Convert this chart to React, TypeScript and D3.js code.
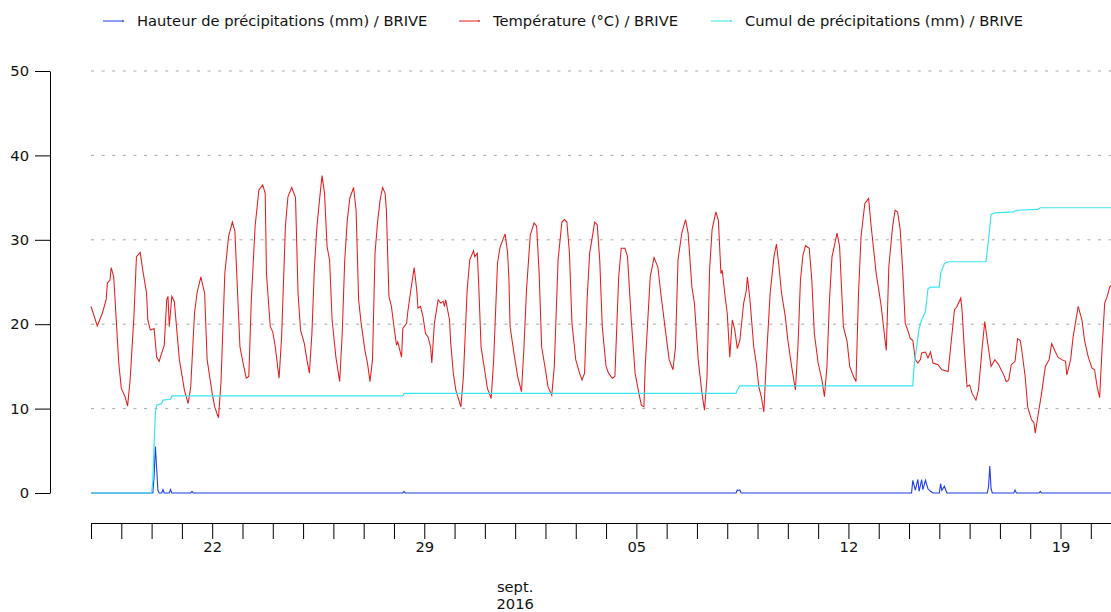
import { useEffect, useRef } from 'react'
import * as d3 from 'd3'

// hours since 2016-08-18 00:00, value
const temperature: [number, number][] = [
  [0, 22.1], [5, 19.8], [9, 21.3], [12, 22.9], [13, 24.9], [15, 25.2], [16, 26.7], [18, 25.6], [22, 15.4], [24, 12.4],
  [27, 11.4], [29, 10.3], [31, 13.4], [34, 20.9], [36, 28.0], [39, 28.5], [41, 26.4], [44, 23.7], [45, 20.5], [47, 19.3],
  [50, 19.5], [52, 16.1], [54, 15.6], [55, 16.1], [58, 17.5], [60, 22.9], [61, 23.3], [62, 19.7], [64, 23.3], [66, 22.7],
  [70, 15.8], [74, 12.2], [77, 10.6], [79, 12.6], [82, 21.3], [84, 23.7], [87, 25.6], [90, 23.7], [92, 15.8], [96, 11.8],
  [98, 10.2], [101, 8.9], [103, 13.2], [106, 26.0], [109, 30.4], [112, 32.1], [114, 31.0], [116, 24.1], [118, 17.3], [121, 15.0],
  [123, 13.6], [125, 13.8], [127, 22.9], [130, 31.6], [133, 35.9], [136, 36.5], [138, 35.5], [139, 26.0], [142, 19.7], [144, 19.1],
  [146, 17.3], [148, 14.8], [149, 13.6], [151, 18.5], [154, 31.6], [156, 35.1], [159, 36.2], [162, 35.0], [164, 23.7], [166, 19.3],
  [169, 17.7], [171, 15.8], [173, 14.2], [175, 18.9], [177, 26.8], [179, 31.6], [181, 34.7], [183, 37.6], [185, 35.5], [187, 29.2],
  [189, 27.6], [191, 20.5], [194, 16.1], [197, 13.2], [199, 18.9], [201, 27.6], [203, 32.3], [205, 34.9], [208, 36.2], [210, 33.5],
  [212, 22.9], [214, 20.1], [217, 16.9], [219, 15.4], [221, 13.2], [223, 15.8], [225, 28.4], [227, 32.1], [229, 34.7], [231, 36.2],
  [233, 35.5], [234, 33.5], [236, 23.3], [238, 22.1], [240, 19.7], [242, 17.5], [243, 17.9], [246, 16.1], [247, 19.5], [250, 20.1],
  [251, 21.5], [253, 23.7], [256, 26.7], [258, 24.1], [259, 21.9], [261, 22.1], [263, 20.9], [265, 18.9], [267, 18.5], [269, 17.3],
  [270, 15.4], [272, 20.1], [275, 22.9], [277, 22.5], [279, 22.7], [280, 22.1], [281, 22.9], [284, 20.5], [285, 17.7], [287, 14.2],
  [289, 12.2], [291, 11.2], [293, 10.2], [295, 13.8], [298, 24.1], [300, 27.6], [303, 28.7], [304, 28.0], [306, 28.4], [307, 25.2],
  [309, 17.3], [312, 14.4], [314, 12.4], [317, 11.2], [319, 15.8], [322, 27.2], [324, 29.1], [328, 30.7], [330, 28.5], [331, 25.6],
  [332, 19.7], [335, 16.6], [338, 13.8], [341, 12.0], [343, 17.3], [345, 24.1], [348, 30.6], [351, 32.0], [353, 31.6], [355, 26.0],
  [357, 17.3], [360, 14.6], [362, 12.6], [365, 11.6], [367, 15.0], [370, 27.6], [373, 32.1], [375, 32.4], [377, 32.1], [379, 28.4],
  [381, 20.1], [384, 15.8], [387, 14.2], [389, 13.4], [391, 14.2], [393, 22.9], [395, 28.4], [399, 32.1], [401, 31.8], [403, 27.6],
  [405, 19.7], [408, 15.0], [410, 14.2], [413, 13.6], [415, 13.8], [418, 25.6], [420, 29.0], [423, 29.0], [425, 28.0], [428, 20.5],
  [431, 14.2], [434, 11.8], [436, 10.4], [438, 10.2], [439, 15.0], [443, 25.6], [446, 27.9], [449, 26.8], [452, 22.9], [455, 19.3],
  [458, 15.8], [461, 14.6], [463, 17.3], [465, 27.6], [468, 30.8], [471, 32.4], [473, 30.8], [476, 24.4], [478, 22.5], [481, 15.8],
  [484, 11.8], [486, 9.8], [488, 13.8], [490, 26.4], [492, 31.2], [495, 33.3], [497, 32.3], [499, 26.0], [500, 26.4], [502, 23.7],
  [504, 21.3], [506, 16.1], [508, 20.5], [510, 19.3], [512, 17.1], [514, 18.1], [517, 22.5], [519, 23.9], [520, 25.6], [522, 22.9],
  [525, 17.3], [527, 15.4], [529, 12.6], [531, 11.4], [533, 9.6], [535, 15.8], [538, 23.7], [541, 28.0], [543, 29.5], [545, 26.8],
  [547, 23.7], [550, 20.9], [552, 18.1], [555, 15.0], [558, 12.2], [560, 17.3], [562, 25.2], [564, 28.2], [566, 29.3], [569, 29.0],
  [571, 25.2], [573, 18.9], [576, 15.4], [579, 13.4], [581, 11.4], [583, 15.0], [585, 22.9], [587, 28.0], [589, 29.4], [591, 30.8],
  [593, 29.2], [596, 19.7], [599, 17.9], [601, 15.0], [604, 13.8], [606, 13.2], [608, 23.7], [610, 30.4], [613, 34.3], [616, 34.9],
  [618, 31.6], [622, 26.0], [624, 24.1], [626, 22.1], [629, 18.1], [630, 16.9], [632, 26.8], [635, 31.6], [637, 33.5], [639, 33.3],
  [641, 31.2], [643, 26.4], [645, 20.1], [647, 19.3], [649, 18.3], [651, 18.1], [653, 15.8], [655, 15.4], [657, 15.8], [658, 16.6],
  [661, 16.7], [663, 16.0], [665, 16.7], [667, 15.4], [671, 15.2], [674, 14.6], [679, 14.4], [681, 17.3], [684, 21.7], [686, 22.1],
  [689, 23.1], [690, 21.7], [692, 16.6], [694, 12.6], [696, 12.8], [698, 11.8], [701, 11.0], [703, 12.2], [706, 17.3], [708, 20.3],
  [710, 18.1], [713, 15.0], [716, 15.8], [719, 15.2], [723, 14.0], [725, 13.2], [727, 13.4], [729, 15.2], [732, 15.6], [734, 18.3],
  [736, 18.1], [737, 17.3], [740, 13.8], [742, 10.2], [745, 8.7], [747, 8.3], [748, 7.1], [750, 9.0], [753, 11.8], [756, 15.0],
  [759, 15.8], [761, 17.7], [764, 16.7], [766, 16.1], [769, 15.8], [772, 15.6], [773, 14.0], [776, 15.8], [778, 18.5], [782, 22.1],
  [785, 20.5], [787, 18.1], [790, 16.1], [793, 14.8], [795, 14.6], [797, 12.6], [799, 11.3], [801, 17.3], [803, 22.5], [805, 23.3],
  [807, 24.4], [808, 24.6],
]

const cumul: [number, number][] = [
  [0, 0], [48, 0], [49, 1.5], [50, 6.0], [51, 9.5], [52, 10.4], [56, 10.6], [57, 11.0], [63, 11.1], [64, 11.5],
  [247, 11.5], [248, 11.8], [511, 11.8], [512, 12.2], [514, 12.7], [651, 12.7], [652, 15.0], [654, 17.3], [656, 19.5],
  [658, 20.5], [661, 21.5], [663, 24.2], [665, 24.4], [672, 24.4], [673, 26.0], [676, 27.2], [679, 27.4], [709, 27.4],
  [711, 30.0], [713, 33.0], [716, 33.2], [731, 33.3], [733, 33.5], [750, 33.6], [752, 33.8], [808, 33.8],
]

const precip: [number, number][] = [
  [0, 0], [49, 0], [50, 2.0], [51, 5.5], [52, 3.0], [53, 0.3], [54, 0], [56, 0], [57, 0.4], [58, 0], [62, 0], [63, 0.4],
  [64, 0], [79, 0], [80, 0.2], [81, 0], [247, 0], [248, 0.2], [249, 0], [511, 0], [512, 0.35], [513, 0.3], [514, 0.35],
  [515, 0], [650, 0], [651, 1.5], [653, 0.35], [655, 1.6], [656, 0.2], [658, 1.6], [659, 0.4], [661, 1.5], [663, 0.5],
  [665, 0.2], [667, 0], [672, 0], [673, 1.1], [674, 0.3], [676, 0.8], [678, 0], [710, 0], [711, 0.75], [712, 3.2],
  [713, 0.5], [714, 0], [731, 0], [732, 0.35], [733, 0], [751, 0], [752, 0.2], [753, 0], [808, 0],
]

const yTicks = [0, 10, 20, 30, 40, 50]
const seriesNames = [
  'Hauteur de précipitations (mm) / BRIVE',
  'Température (°C) / BRIVE',
  'Cumul de précipitations (mm) / BRIVE',
]
const seriesColors = ['#1f3fe0', '#e41e1e', '#38e6ee']

const width = 1111
const height = 612
const font = '"DejaVu Sans", sans-serif'
const fontSize = 14.7
const textColor = '#111'

export default function App() {
  const xAxisRef = useRef<SVGGElement>(null)
  const yAxisRef = useRef<SVGGElement>(null)

  const start = new Date(2016, 7, 18)
  const end = d3.timeHour.offset(start, 808)
  const x = d3.scaleTime().domain([start, end]).range([91, 1111])
  const y = d3.scaleLinear().domain([0, 50]).range([493, 71])

  const line = d3
    .line<[number, number]>()
    .x(d => x(d3.timeHour.offset(start, d[0])))
    .y(d => y(d[1]))

  useEffect(() => {
    const days = d3.timeDay.range(start, end)
    const fmt = d3.timeFormat('%d')
    const xa = d3
      .axisBottom(x)
      .tickValues(days)
      .tickSize(16)
      .tickSizeOuter(0)
      .tickPadding(3)
      .tickFormat(d => ((d as Date).getDay() === 1 ? fmt(d as Date) : ''))
    const gx = d3.select(xAxisRef.current!)
    gx.selectAll('*').remove()
    gx.call(xa)
    gx.selectAll('text').style('font-family', font).style('font-size', `${fontSize}px`).attr('fill', textColor)

    const ya = d3.axisLeft(y).tickValues(yTicks).tickSize(15).tickSizeOuter(0).tickPadding(6)
    const gy = d3.select(yAxisRef.current!)
    gy.selectAll('*').remove()
    gy.call(ya)
    gy.selectAll('text').style('font-family', font).style('font-size', `${fontSize}px`).attr('fill', textColor)
  }, [])

  const legendX = [103, 459, 711]

  return (
    <svg width={width} height={height} style={{ position: 'absolute', left: 0, top: 0, background: '#fff' }}>
      {yTicks.slice(1).map(t => (
        <line key={t} x1={91} x2={1111} y1={y(t)} y2={y(t)} stroke="#aaa" strokeWidth={1} strokeDasharray="3,7.6" />
      ))}
      <path d={line(precip) ?? ''} fill="none" stroke={seriesColors[0]} strokeWidth={1.1} />
      <path d={line(temperature) ?? ''} fill="none" stroke={seriesColors[1]} strokeWidth={1.05} />
      <path d={line(cumul) ?? ''} fill="none" stroke={seriesColors[2]} strokeWidth={1.2} />
      <g ref={yAxisRef} transform="translate(50,0)" />
      <g ref={xAxisRef} transform="translate(0,523)" />
      <text x={x(new Date(2016, 8, 1))} y={592} textAnchor="middle" fontFamily={font} fontSize={fontSize} fill={textColor}>
        sept.
      </text>
      <text x={x(new Date(2016, 8, 1))} y={608.5} textAnchor="middle" fontFamily={font} fontSize={fontSize} fill={textColor}>
        2016
      </text>
      {seriesNames.map((name, i) => (
        <g key={name} transform={`translate(${legendX[i]},21)`}>
          <line x1={0} x2={20} y1={0} y2={0} stroke={seriesColors[i]} strokeWidth={1} />
          <circle cx={20} cy={0} r={0.9} fill={seriesColors[i]} />
          <text x={34} y={5} fontFamily={font} fontSize={fontSize} fill={textColor}>
            {name}
          </text>
        </g>
      ))}
    </svg>
  )
}
